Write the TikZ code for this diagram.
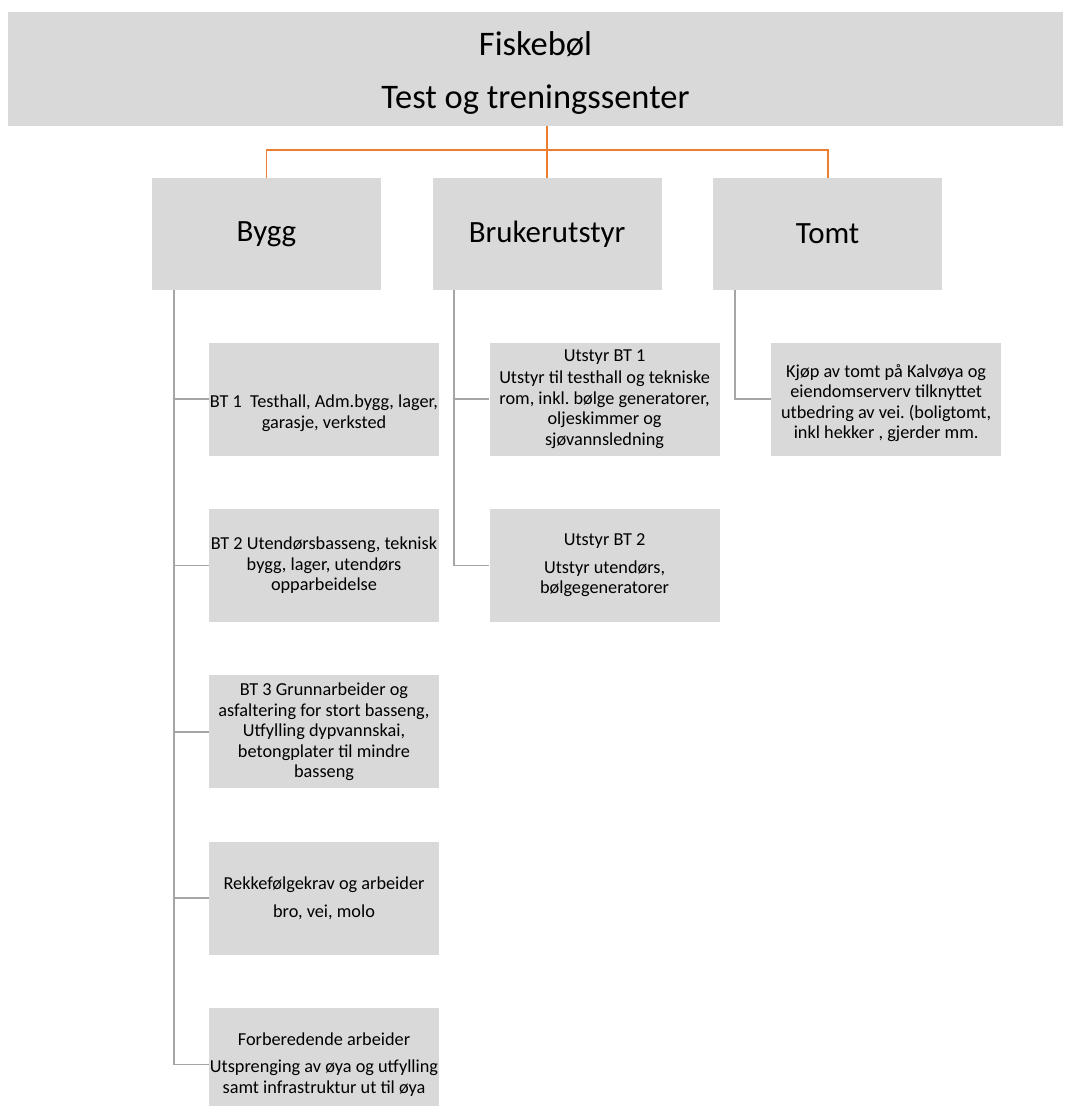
\documentclass[tikz,border=0pt]{standalone}
\usepackage{fontspec}
\setmainfont{Carlito}
\usepackage{tikz}
\usetikzlibrary{positioning}
\definecolor{boxgray}{HTML}{D9D9D9}
\definecolor{linkorange}{HTML}{ED7D31}
\definecolor{linkgray}{HTML}{A5A5A5}
\frenchspacing

\begin{document}
\begin{tikzpicture}[
    node distance=1.3cm and 1.275cm,
    topbox/.style={rectangle, fill=boxgray, inner sep=0pt, minimum width=26.375cm, minimum height=2.85cm, align=center, font=\fontsize{24.5}{29.4}\selectfont},
    mainbox/.style={rectangle, fill=boxgray, inner sep=0pt, minimum width=5.725cm, minimum height=2.8cm, font=\fontsize{22}{26}\selectfont},
    subbox/.style={rectangle, fill=boxgray, inner sep=0pt, minimum width=5.75cm, minimum height=2.825cm, align=center, font=\fontsize{13}{14.6}\selectfont},
    orangeline/.style={draw=linkorange, line width=1.3pt},
    grayline/.style={draw=linkgray, line width=1.3pt}
]
\useasboundingbox (0,0) rectangle (26.775,-27.65);

% top and first level
\node[topbox] (top) at (13.3875,-1.725) {\rule{0pt}{23pt}Fiskebøl\\[8.3pt]Test og treningssenter};
\node[mainbox] (bygg) at (6.6625,-5.85) {Bygg};
\node[mainbox, right=of bygg] (bruk) {Brukerutstyr};
\node[mainbox, right=of bruk] (tomt) {Tomt};

% Bygg
\node[subbox, below=1.3cm of bygg.south west, anchor=north west, xshift=1.425cm] (bt1) {\rule{0pt}{29pt}BT 1\ \ Testhall, Adm.bygg, lager,\\garasje, verksted};
\node[subbox, below=1.32cm of bt1] (bt2) {BT 2 Utendørsbasseng, teknisk\\bygg, lager, utendørs\\opparbeidelse};
\node[subbox, below=1.32cm of bt2] (bt3) {BT 3 Grunnarbeider og\\asfaltering for stort basseng,\\Utfylling dypvannskai,\\betongplater til mindre\\basseng};
\node[subbox, below=1.32cm of bt3] (rekk) {Rekkefølgekrav og arbeider\\[5pt]bro, vei, molo};
\node[subbox, below=1.32cm of rekk] (forb) {Forberedende arbeider\\[5pt]Utsprenging av øya og utfylling\\samt infrastruktur ut til øya};

% Brukerutstyr
\node[subbox, below=1.3cm of bruk.south west, anchor=north west, xshift=1.425cm] (ub1) {Utstyr BT 1\\[1pt]Utstyr til testhall og tekniske\\rom, inkl. bølge generatorer,\\oljeskimmer og\\sjøvannsledning};
\node[subbox, below=1.32cm of ub1] (ub2) {Utstyr BT 2\\[5pt]Utstyr utendørs,\\bølgegeneratorer};

% Tomt
\node[subbox, below=1.3cm of tomt.south west, anchor=north west, xshift=1.45cm] (kjop) {\rule{0pt}{15pt}Kjøp av tomt på Kalvøya og\\eiendomserverv tilknyttet\\utbedring av vei. (boligtomt,\\inkl hekker , gjerder mm.};

\draw[orangeline] (bruk.north |- top.south) -- (bruk.north);
\draw[orangeline] (bygg.north) -- ++(0,0.7) -| (tomt.north);

\foreach \c in {bt1,bt2,bt3,rekk,forb}
    \draw[grayline] ([xshift=0.55cm]bygg.south west) |- (\c.west);
\foreach \c in {ub1,ub2}
    \draw[grayline] ([xshift=0.55cm]bruk.south west) |- (\c.west);
\draw[grayline] ([xshift=0.55cm]tomt.south west) |- (kjop.west);
\end{tikzpicture}
\end{document}
